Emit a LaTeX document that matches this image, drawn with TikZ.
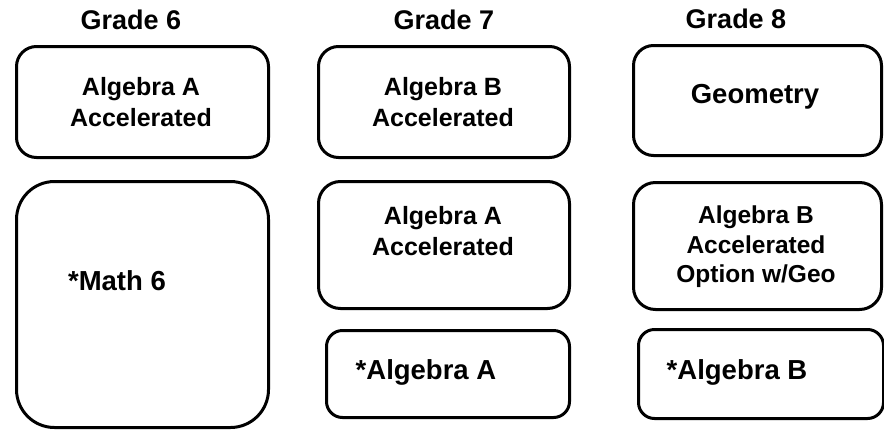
\documentclass[tikz,border=0pt]{standalone}
\usepackage{fontspec}
\setmainfont{Liberation Sans}
\begin{document}
\begin{tikzpicture}[x=1pt,y=-1pt,
  box/.style={draw=black, line width=3pt, rounded corners=#1, inner sep=0pt, anchor=north west},
  title/.style={font=\bfseries\fontsize{27}{32}\selectfont, inner sep=0pt},
  two/.style={font=\bfseries\fontsize{25}{30.5}\selectfont, align=center, inner sep=0pt},
  three/.style={font=\bfseries\fontsize{24.5}{29.5}\selectfont, align=center, inner sep=0pt},
  one/.style={font=\bfseries\fontsize{27.5}{32}\selectfont, inner sep=0pt}]
\useasboundingbox (0,0) rectangle (884,429);
% titles
\node[title] (g6t) at (131,20) {Grade 6};
\node[title] (g7t) at (444,20) {Grade 7};
\node[title] (g8t) at (736,19) {Grade 8};
% grade 6
\node[box=20pt, minimum width=252pt, minimum height=111pt] (b61) at (15,45) {};
\node[two] (t61) at (141,102) {Algebra A\\Accelerated};
\node[box=38pt, minimum width=252pt, minimum height=246pt] (b62) at (15,180) {};
\node[one] (t62) at (117,281) {*Math 6};
% grade 7
\node[box=20pt, minimum width=251pt, minimum height=111pt] (b71) at (317,45) {};
\node[two] (t71) at (443,102) {Algebra B\\Accelerated};
\node[box=22pt, minimum width=251pt, minimum height=127pt] (b72) at (317,180) {};
\node[two] (t72) at (443,231) {Algebra A\\Accelerated};
\node[box=16pt, minimum width=243pt, minimum height=87pt] (b73) at (325,329) {};
\node[one] (t73) at (426,372) {*Algebra A};
% grade 8
\node[box=20pt, minimum width=248pt, minimum height=110pt] (b81) at (632,44) {};
\node[one] (t81) at (755,97) {Geometry};
\node[box=22pt, minimum width=248pt, minimum height=127pt] (b82) at (632,181) {};
\node[three] (t82) at (756,247) {Algebra B\\Accelerated\\Option w/Geo};
\node[box=16pt, minimum width=245pt, minimum height=89pt] (b83) at (637,328) {};
\node[one] (t83) at (737,372) {*Algebra B};
\end{tikzpicture}
\end{document}
